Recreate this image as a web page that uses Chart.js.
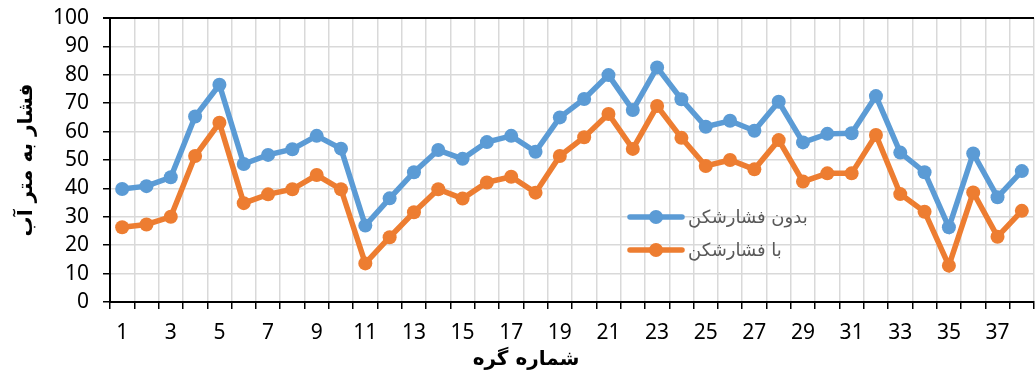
<!DOCTYPE html>
<html>
<head>
<meta charset="utf-8">
<script src="https://cdn.jsdelivr.net/npm/chart.js@4"></script>
<style>
  html, body { margin: 0; padding: 0; background: #fff; overflow: hidden; }
  .wrap { position: relative; width: 1041px; height: 378px; }
</style>
</head>
<body>
<div class="wrap"><canvas id="myChart"></canvas></div>
<script>
var nodes = [];
for (var i = 1; i <= 38; i++) nodes.push(String(i));

var bedoon = [39.8, 40.8, 43.9, 65.3, 76.5, 48.6, 51.8, 53.8, 58.5, 54.0,
              26.9, 36.5, 45.7, 53.5, 50.4, 56.3, 58.5, 52.9, 65.0, 71.5,
              79.9, 67.6, 82.6, 71.4, 61.7, 63.8, 60.3, 70.5, 56.2, 59.2,
              59.4, 72.5, 52.6, 45.7, 26.3, 52.3, 36.9, 46.1];
var ba = [26.3, 27.3, 30.0, 51.4, 63.1, 34.8, 37.9, 39.7, 44.7, 39.7,
          13.6, 22.8, 31.6, 39.7, 36.4, 42.1, 44.1, 38.5, 51.4, 58.0,
          66.2, 53.9, 69.0, 57.8, 47.9, 50.0, 46.7, 57.0, 42.4, 45.3,
          45.3, 58.8, 38.0, 31.8, 12.8, 38.6, 23.0, 32.1];
var yTicks = [0, 10, 20, 30, 40, 50, 60, 70, 80, 90, 100];

var seriesNames = ['بدون فشارشکن', 'با فشارشکن'];
var yTitle = 'فشار به متر آب';
var xTitle = 'شماره گره';

var blue = '#5B9BD5';
var orange = '#ED7D31';
var tickFont = { family: '"Noto Sans", sans-serif', size: 21, lineHeight: 1 };

// legend + x axis title drawn on the canvas
const extras = {
  id: 'extras',
  afterDraw(chart) {
    const c = chart.ctx;
    c.save();
    c.direction = 'rtl';
    c.font = 'bold 20px "DejaVu Sans", sans-serif';
    c.fillStyle = '#000';
    c.textAlign = 'center';
    c.textBaseline = 'middle';
    c.fillText(xTitle, 526, 360);

    chart.data.datasets.forEach(function (ds, k) {
      const y = 217 + k * 33;
      c.strokeStyle = ds.borderColor;
      c.lineWidth = 5.5;
      c.lineCap = 'round';
      c.beginPath();
      c.moveTo(630, y);
      c.lineTo(682, y);
      c.stroke();
      c.fillStyle = ds.borderColor;
      c.beginPath();
      c.arc(656, y, 7, 0, Math.PI * 2);
      c.fill();
      c.fillStyle = '#595959';
      c.font = '18px "DejaVu Sans", sans-serif';
      c.textAlign = 'left';
      c.direction = 'ltr';
      c.fillText(ds.label, 688, y + 1);
    });
    c.restore();
  }
};

var ctx = document.getElementById('myChart');

const datachart = {
  labels: nodes,
  datasets: [
    {
      label: seriesNames[0],
      data: bedoon,
      borderColor: blue,
      backgroundColor: blue,
      borderWidth: 5.5,
      pointRadius: 7,
      pointHoverRadius: 7,
      pointBorderWidth: 0,
      tension: 0
    },
    {
      label: seriesNames[1],
      data: ba,
      borderColor: orange,
      backgroundColor: orange,
      borderWidth: 5.5,
      pointRadius: 7,
      pointHoverRadius: 7,
      pointBorderWidth: 0,
      tension: 0
    }
  ]
};

const config = {
  type: 'line',
  data: datachart,
  options: {
    responsive: true,
    maintainAspectRatio: false,
    animation: false,
    layout: { padding: { top: 18, right: 0, left: 0, bottom: 0 } },
    plugins: {
      legend: { display: false },
      tooltip: { enabled: false }
    },
    scales: {
      x: {
        offset: true,
        grid: {
          offset: true,
          color: '#D9D9D9',
          lineWidth: 1.5,
          tickColor: '#000',
          tickLength: 7
        },
        border: { color: '#000', width: 2 },
        ticks: {
          autoSkip: false,
          maxRotation: 0,
          color: '#000',
          font: tickFont,
          padding: 14,
          callback: function (v, i) { return i % 2 === 0 ? nodes[i] : ''; }
        },
        afterFit: function (s) { s.height = 76; s.paddingLeft = 0; s.paddingRight = 0; }
      },
      y: {
        min: 0,
        max: 100,
        afterBuildTicks: function (s) {
          s.ticks = yTicks.map(function (v) { return { value: v }; });
        },
        grid: {
          color: function (c) { return c.tick && c.tick.value === 100 ? '#000' : '#D9D9D9'; },
          lineWidth: function (c) { return c.tick && c.tick.value === 100 ? 2 : 1.5; },
          tickColor: '#000',
          tickLength: 7
        },
        border: { color: '#000', width: 2 },
        ticks: {
          autoSkip: false,
          color: '#000',
          font: tickFont,
          padding: 14
        },
        title: {
          display: true,
          text: yTitle,
          color: '#000',
          font: { family: '"DejaVu Sans", sans-serif', size: 20, weight: 'bold' },
          padding: { top: 15, bottom: 0 }
        },
        afterFit: function (s) { s.width = 110; s.paddingTop = 0; s.paddingBottom = 0; }
      }
    }
  },
  plugins: [extras]
};

const myChart = new Chart(ctx, config);
</script>
</body>
</html>
